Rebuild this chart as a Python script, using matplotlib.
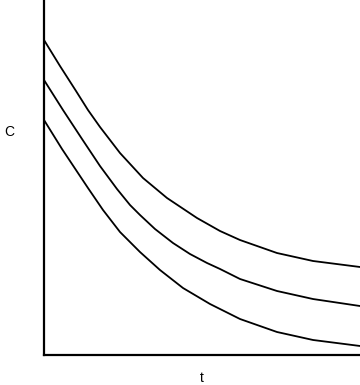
import matplotlib.pyplot as plt

# curve samples (t, C)
t_top = [0, 0.506, 1.013, 1.392, 1.772, 2.405, 3.133, 3.892, 4.842, 5.570, 6.203, 7.373, 8.513, 10]
c_top = [8.873, 8.141, 7.437, 6.901, 6.423, 5.690, 4.986, 4.423, 3.859, 3.493, 3.239, 2.873, 2.648, 2.479]

t_mid = [0, 0.601, 1.203, 1.772, 2.310, 2.722, 3.038, 3.513, 4.082, 4.620, 5.158, 5.570, 6.203, 7.373, 8.513, 10]
c_mid = [7.746, 6.901, 6.085, 5.324, 4.676, 4.225, 3.944, 3.549, 3.155, 2.845, 2.592, 2.423, 2.141, 1.803, 1.577, 1.380]

t_low = [0, 0.570, 1.139, 1.392, 1.867, 2.405, 3.038, 3.671, 4.399, 5.253, 6.203, 7.373, 8.513, 10]
c_low = [6.620, 5.803, 5.042, 4.704, 4.085, 3.465, 2.901, 2.394, 1.887, 1.437, 1.014, 0.648, 0.423, 0.254]

plt.rcParams['font.family'] = ['Liberation Sans', 'DejaVu Sans']

fig = plt.figure(figsize=(3.6, 3.85), dpi=100)
ax = fig.add_axes([44 / 360, 1 - 355 / 385, 316 / 360, 355 / 385])

for t, c in [(t_top, c_top), (t_mid, c_mid), (t_low, c_low)]:
    ax.plot(t, c, color='black', linewidth=1.3, solid_joinstyle='round')

ax.set_xlim(0, 10)
ax.set_ylim(0, 10)
ax.set_xticks([])
ax.set_yticks([])
ax.spines['top'].set_visible(False)
ax.spines['right'].set_visible(False)
ax.spines['left'].set_linewidth(1.6)
ax.spines['bottom'].set_linewidth(1.6)

fig.text(4 / 360, 1 - 132 / 385, 'C', fontsize=10, ha='left', va='center')
fig.text(202 / 360, 1 - 378 / 385, 't', fontsize=10, ha='center', va='center')

fig.savefig('out.png', dpi=100)
